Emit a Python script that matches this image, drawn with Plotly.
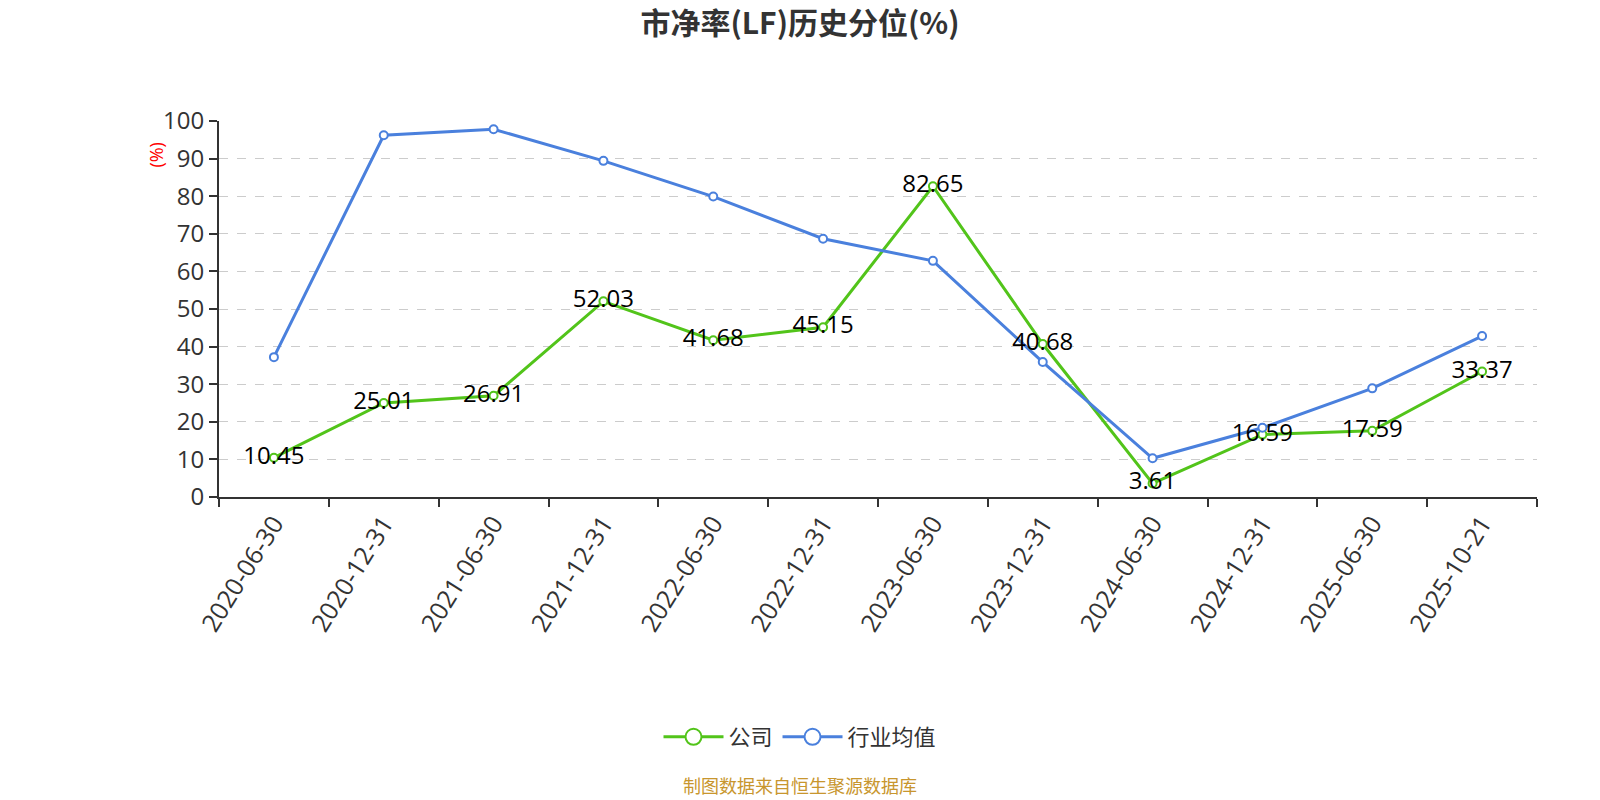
import plotly.graph_objects as go

categories = ["2020-06-30", "2020-12-31", "2021-06-30", "2021-12-31", "2022-06-30",
              "2022-12-31", "2023-06-30", "2023-12-31", "2024-06-30", "2024-12-31",
              "2025-06-30", "2025-10-21"]
company = [10.45, 25.01, 26.91, 52.03, 41.68, 45.15, 82.65, 40.68, 3.61, 16.59, 17.59, 33.37]
industry = [37.2, 96.2, 97.8, 89.4, 79.9, 68.7, 62.8, 35.9, 10.3, 18.4, 28.9, 42.8]
company_labels = [f"{v:.2f}" for v in company]

GREEN = "#52c41a"
BLUE = "#4a80dd"
FONT = "Open Sans, Noto Sans CJK SC"
CJK = "Noto Sans CJK SC"

fig = go.Figure()
fig.add_trace(go.Scatter(x=categories, y=company, mode="lines+markers", name="公司",
                         line=dict(color=GREEN, width=3),
                         marker=dict(size=8, color="white", line=dict(color=GREEN, width=2)),
                         showlegend=False))
fig.add_trace(go.Scatter(x=categories, y=industry, mode="lines+markers", name="行业均值",
                         line=dict(color=BLUE, width=3),
                         marker=dict(size=8, color="white", line=dict(color=BLUE, width=2)),
                         showlegend=False))
fig.add_trace(go.Scatter(x=categories, y=company, mode="text", text=company_labels,
                         textposition="middle center",
                         textfont=dict(size=24, color="#000000", family=FONT),
                         showlegend=False, hoverinfo="skip"))
# legend entries
fig.add_trace(go.Scatter(x=[None], y=[None], mode="lines+markers", name="公司",
                         line=dict(color=GREEN, width=3),
                         marker=dict(size=18, color="white", line=dict(color=GREEN, width=2))))
fig.add_trace(go.Scatter(x=[None], y=[None], mode="lines+markers", name="行业均值",
                         line=dict(color=BLUE, width=3),
                         marker=dict(size=18, color="white", line=dict(color=BLUE, width=2))))

fig.update_layout(
    width=1600, height=800,
    paper_bgcolor="white", plot_bgcolor="white",
    margin=dict(l=219, r=63, t=121, b=303, autoexpand=False),
    font=dict(family=FONT, color="#333333"),
    title=dict(text="<b>市净率(LF)历史分位(%)</b>", xref="container", x=0.5, xanchor="center",
               yref="container", y=1 - 23 / 800, yanchor="middle",
               font=dict(size=30, color="#333333", family=CJK)),
    legend=dict(orientation="h", xref="container", yref="container", x=0.5, xanchor="center",
                y=1 - 737 / 800, yanchor="middle", font=dict(size=22, color="#333333", family=CJK),
                itemwidth=60),
    xaxis=dict(type="category", tickson="boundaries", showline=True, linecolor="#333333",
               linewidth=2, ticks="outside", ticklen=8, tickcolor="#333333", tickwidth=2,
               tickangle=-58, tickfont=dict(size=25, color="#333333"), showgrid=False,
               range=[-0.5, len(categories) - 0.5], zeroline=False),
    yaxis=dict(range=[0, 100], dtick=10, showline=True, linecolor="#333333", linewidth=2,
               ticks="outside", ticklen=8, tickcolor="#333333", tickwidth=2,
               tickfont=dict(size=24, color="#333333"), showgrid=True, gridcolor="#cccccc",
               griddash="dash", gridwidth=1, zeroline=False),
    annotations=[
        dict(text="(%)", xref="paper", yref="paper", x=(156 - 219) / 1318, y=(496.5 - 155) / 375,
             xanchor="center", yanchor="middle",
             showarrow=False, textangle=-90, font=dict(size=18, color="red", family=FONT)),
        dict(text="制图数据来自恒生聚源数据库", xref="paper", yref="paper",
             x=(800 - 219) / 1318, y=(496.5 - 799) / 375, showarrow=False,
             xanchor="center", yanchor="bottom",
             font=dict(size=18, color="#c8962e", family=CJK)),
    ],
)

fig.write_html("out.html")
